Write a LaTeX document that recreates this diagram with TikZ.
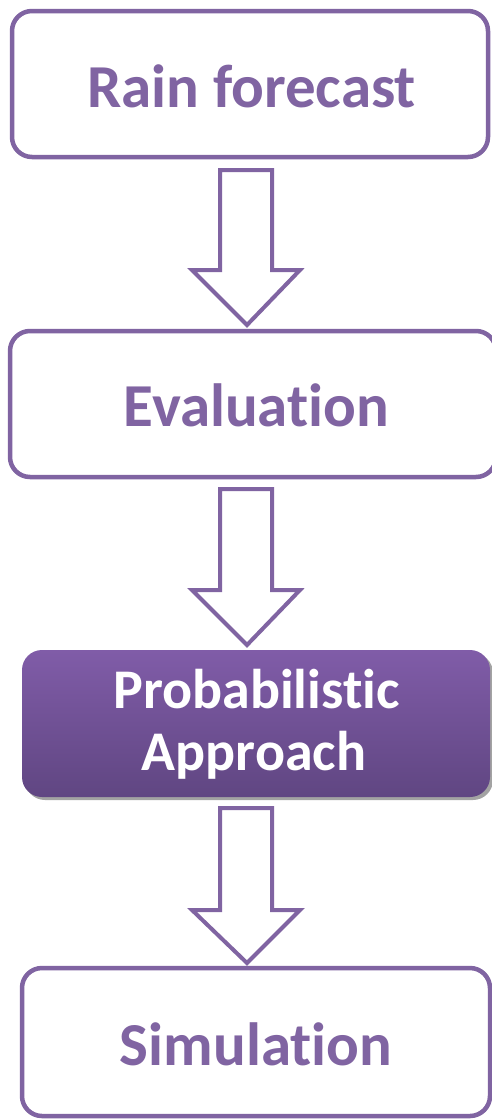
\documentclass[tikz,border=0pt]{standalone}
\usepackage{fontspec}
\setmainfont[Ligatures=NoCommon,RawFeature={-liga;-calt;-clig;-dlig}]{Carlito}
\usetikzlibrary{shadows,calc}
\definecolor{bordpurple}{RGB}{128,100,162}
\definecolor{toppurple}{RGB}{128,92,168}
\definecolor{botpurple}{RGB}{96,70,130}
\newcommand\tisep{t\kern0pt i}
\tikzset{
  stepbox/.style={draw=bordpurple, line width=4.5pt, rounded corners=20pt, fill=white, inner sep=0pt},
  hibox/.style={rounded corners=20pt, top color=toppurple, bottom color=botpurple, draw=none, inner sep=0pt,
    drop shadow={shadow xshift=3pt, shadow yshift=-3pt, fill=black!45, opacity=0.8}},
  steptext/.style={anchor=base, inner sep=0pt, text=bordpurple, font=\bfseries\fontsize{61}{62}\selectfont},
  hitext/.style={anchor=base, inner sep=0pt, text=white, font=\bfseries\fontsize{56}{62}\selectfont},
  blockarrow/.style={draw=bordpurple, line width=4pt, fill=white, line join=miter}
}
\newcommand\bigdownarrow[4]{% name, top, shoulder, tip
  \coordinate (#1s) at (246,#2);
  \coordinate (#1e) at (247,#4);
  \draw[blockarrow] (220,#2) -- (272,#2) -- (272,#3) -- (300,#3) -- (#1e) -- (192,#3) -- (220,#3) -- cycle;
}
\begin{document}
\begin{tikzpicture}[x=1pt,y=-1pt]
\useasboundingbox (0,0) rectangle (492,1119);
\fill[white] (0,0) rectangle (492,1119);

% boxes
\node[stepbox, minimum width=476pt, minimum height=146pt] (b1) at (250,84) {};
\node[stepbox, minimum width=486pt, minimum height=146pt] (b2) at (253,404) {};
\node[hibox, minimum width=468pt, minimum height=147pt] (b3) at (256,723.5) {};
\node[stepbox, minimum width=468pt, minimum height=148pt] (b4) at (256,1042) {};

% arrows
\bigdownarrow{a1}{170}{270}{325}
\bigdownarrow{a2}{489}{590}{645}
\bigdownarrow{a3}{808}{910}{963}

% texts
\node[steptext] (t1) at (251.5,107) {Rain forecast};
\node[steptext] (t2) at (256.5,426) {Evalua\tisep on};
\node[hitext] (t3a) at (256.5,708) {Probabilis\tisep c};
\node[hitext] (t3b) at (254,770) {Approach};
\node[steptext] (t4) at (256,1065) {Simula\tisep on};
\end{tikzpicture}
\end{document}
